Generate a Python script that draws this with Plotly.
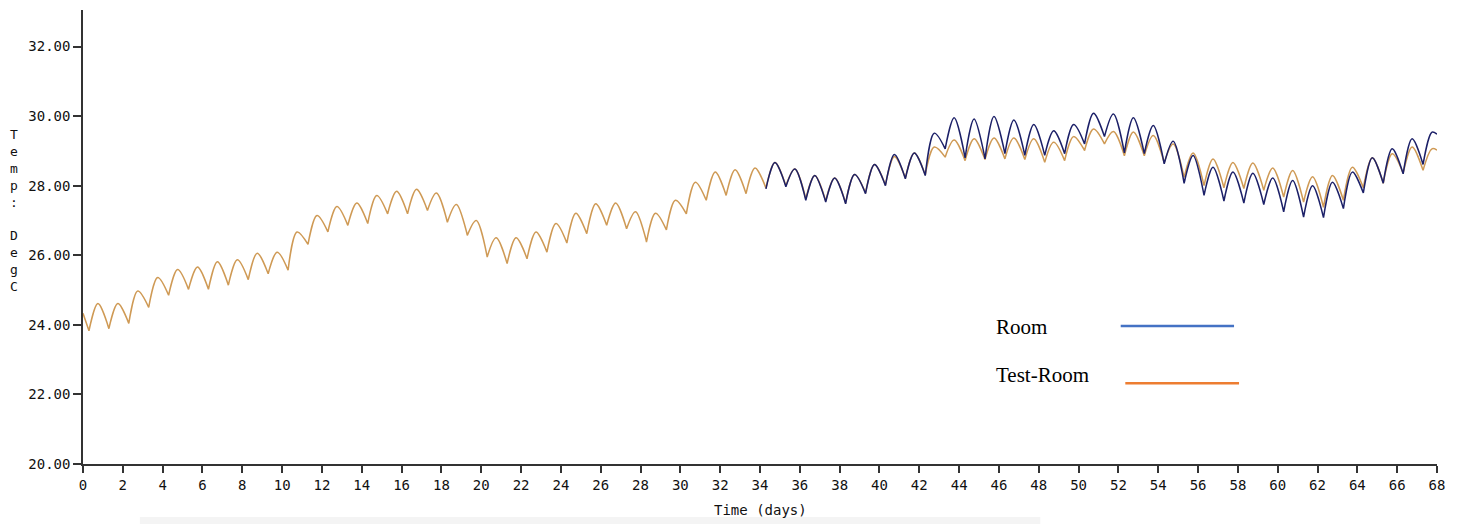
import plotly.graph_objects as go

# Daily cycle: each day has an early-morning minimum and a late-afternoon maximum
TROUGH_PHASE = 0.30   # fraction of the day at which the minimum occurs
PEAK_PHASE = 0.75     # fraction of the day at which the maximum occurs
LAST_DAY = 68

# Test-Room temperature (deg C), one min/max pair per day, days 0..67
test_trough = [23.83, 23.89, 24.04, 24.50, 24.85, 25.02, 25.02, 25.14, 25.30, 25.47,
               25.57, 26.31, 26.67, 26.86, 26.91, 27.19, 27.19, 27.29, 26.95, 26.57,
               25.95, 25.76, 25.90, 26.09, 26.35, 26.62, 26.86, 26.76, 26.38, 26.73,
               27.19, 27.58, 27.72, 27.77, 27.93, 28.00, 27.62, 27.56, 27.50, 27.79,
               28.02, 28.22, 28.31, 28.82, 28.72, 28.75, 28.77, 28.75, 28.67, 28.72,
               29.01, 29.20, 28.86, 28.86, 28.66, 28.24, 28.00, 27.94, 27.92, 27.87,
               27.67, 27.53, 27.38, 27.58, 27.94, 28.07, 28.36, 28.44]
test_peak = [24.61, 24.61, 24.97, 25.36, 25.59, 25.66, 25.81, 25.87, 26.06, 26.09,
             26.67, 27.14, 27.40, 27.50, 27.72, 27.84, 27.90, 27.79, 27.46, 27.00,
             26.50, 26.50, 26.67, 26.91, 27.21, 27.48, 27.50, 27.25, 27.21, 27.58,
             28.10, 28.39, 28.46, 28.51, 28.67, 28.48, 28.29, 28.22, 28.32, 28.61,
             28.84, 28.94, 29.11, 29.31, 29.35, 29.37, 29.37, 29.35, 29.25, 29.41,
             29.63, 29.56, 29.54, 29.44, 29.20, 28.94, 28.77, 28.67, 28.65, 28.51,
             28.44, 28.26, 28.29, 28.53, 28.80, 28.92, 29.11, 29.06]
test_start = 24.33
test_end = 29.02

# Room temperature (deg C), days 34..67
room_first_day = 34
room_trough = [27.91, 27.97, 27.58, 27.53, 27.48, 27.77, 28.00, 28.20, 28.29, 29.06,
               28.80, 28.77, 28.92, 28.87, 28.87, 28.92, 29.20, 29.41, 28.94, 28.92,
               28.63, 28.07, 27.72, 27.56, 27.50, 27.46, 27.25, 27.10, 27.08, 27.34,
               27.79, 28.07, 28.34, 28.61]
room_peak = [28.67, 28.48, 28.29, 28.22, 28.32, 28.61, 28.90, 28.94, 29.51, 29.95,
             29.92, 29.99, 29.89, 29.76, 29.58, 29.76, 30.08, 30.06, 29.95, 29.73,
             29.28, 28.87, 28.53, 28.39, 28.36, 28.22, 28.15, 28.00, 28.10, 28.39,
             28.80, 29.06, 29.35, 29.54]
room_end = 29.48

x_ticks = list(range(0, 69, 2))
y_ticks = [20, 22, 24, 26, 28, 30, 32]


def daily_series(first_day, troughs, peaks, start=None, end=None):
    """Min/max pairs as a line; each minimum is listed twice so the
    spline turns sharply there while the afternoon maxima stay rounded."""
    xs, ys = [], []
    if start is not None:
        xs.append(float(first_day))
        ys.append(start)
    for i, (lo, hi) in enumerate(zip(troughs, peaks)):
        day = first_day + i
        xs += [day + TROUGH_PHASE, day + TROUGH_PHASE, day + PEAK_PHASE]
        ys += [lo, lo, hi]
    if end is not None:
        xs.append(float(LAST_DAY))
        ys.append(end)
    return xs, ys


tx, ty = daily_series(0, test_trough, test_peak, test_start, test_end)
rx, ry = daily_series(room_first_day, room_trough, room_peak, None, room_end)

TEST_COLOR = "#cf9a55"
ROOM_COLOR = "#1c2068"
AXIS_COLOR = "#333333"
MONO = "DejaVu Sans Mono"

fig = go.Figure()
fig.add_trace(go.Scatter(x=tx, y=ty, mode="lines", name="Test-Room",
                         line=dict(color=TEST_COLOR, width=1.5, shape="spline", smoothing=1.0)))
fig.add_trace(go.Scatter(x=rx, y=ry, mode="lines", name="Room",
                         line=dict(color=ROOM_COLOR, width=1.5, shape="spline", smoothing=1.0)))

fig.update_xaxes(range=[0, 68], tickvals=x_ticks, ticktext=[str(v) for v in x_ticks],
                 showline=True, linecolor=AXIS_COLOR, linewidth=1.5,
                 ticks="outside", ticklen=7, tickwidth=1.5, tickcolor=AXIS_COLOR,
                 showgrid=False, zeroline=False,
                 tickfont=dict(family=MONO, size=14, color="#111111"))
fig.update_yaxes(range=[20, 33.05], tickvals=y_ticks, ticktext=[f"{v:.2f}" for v in y_ticks],
                 showline=True, linecolor=AXIS_COLOR, linewidth=1.5,
                 ticks="outside", ticklen=8, tickwidth=1.5, tickcolor=AXIS_COLOR,
                 showgrid=False, zeroline=False,
                 tickfont=dict(family=MONO, size=14, color="#111111"))

annotations = [
    # stacked vertical axis title
    dict(text="<br>".join(list("Temp:") + [" "] + list("DegC")),
         xref="paper", yref="paper", x=-0.051, y=0.559, xanchor="center", yanchor="middle",
         showarrow=False, font=dict(family=MONO, size=13, color="#111111")),
    dict(text="Time (days)", xref="paper", yref="paper", x=0.5, y=-0.101,
         xanchor="center", yanchor="middle", showarrow=False,
         font=dict(family=MONO, size=14, color="#111111")),
    # legend
    dict(text="Room", xref="paper", yref="paper", x=0.673, y=0.302,
         xanchor="left", yanchor="middle", showarrow=False,
         font=dict(family="Liberation Serif", size=21, color="#000000")),
    dict(text="Test-Room", xref="paper", yref="paper", x=0.673, y=0.195,
         xanchor="left", yanchor="middle", showarrow=False,
         font=dict(family="Liberation Serif", size=21, color="#000000")),
]

shapes = [
    dict(type="line", xref="paper", yref="paper", x0=0.7664, x1=0.8501, y0=0.304, y1=0.304,
         line=dict(color="#4472C4", width=2.5)),
    dict(type="line", xref="paper", yref="paper", x0=0.7698, x1=0.8538, y0=0.1778, y1=0.1778,
         line=dict(color="#ED7D31", width=2.5)),
    # faint strip along the bottom edge
    dict(type="rect", xref="paper", yref="paper", x0=0.042, x1=0.707, y0=-0.1322, y1=-0.1167,
         line=dict(width=0), fillcolor="#f4f4f4", layer="below"),
]

fig.update_layout(width=1460, height=524, margin=dict(l=83, r=23, t=10, b=60),
                  paper_bgcolor="white", plot_bgcolor="white", showlegend=False,
                  annotations=annotations, shapes=shapes)

fig.write_html("out.html")
